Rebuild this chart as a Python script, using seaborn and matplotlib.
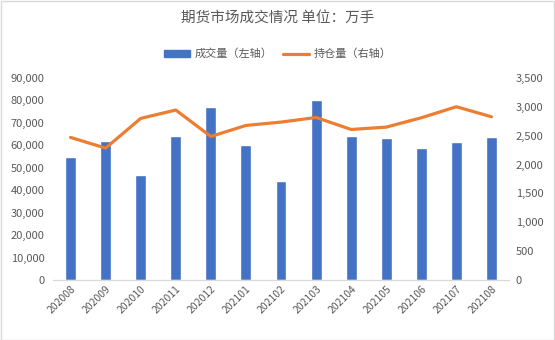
import matplotlib
matplotlib.use("Agg")
import matplotlib.pyplot as plt
import matplotlib.ticker as mticker
from matplotlib.patches import Rectangle, Patch
from matplotlib.lines import Line2D
import numpy as np
import pandas as pd
import seaborn as sns

# Monthly futures market data (unit: 10k lots)
months = ["202008", "202009", "202010", "202011", "202012", "202101", "202102",
          "202103", "202104", "202105", "202106", "202107", "202108"]
volume = [55000, 62000, 47000, 64000, 77000, 60000, 44000,
          80000, 64000, 63400, 59000, 61600, 63800]
open_interest = [2470, 2285, 2800, 2945, 2487, 2678, 2736,
                 2816, 2608, 2649, 2811, 3002, 2828]

title = "期货市场成交情况 单位：万手"
vol_label = "成交量（左轴）"
oi_label = "持仓量（右轴）"

BLUE = "#4472C4"
ORANGE = "#ED7D31"
GRAY = "#595959"

sns.set_theme(style="white")
plt.rcParams["font.family"] = ["Noto Sans CJK SC", "DejaVu Sans"]

df = pd.DataFrame({"month": months, "volume": volume,
                   "oi": open_interest, "pos": np.arange(len(months))})

fig = plt.figure(figsize=(5.55, 3.4), dpi=100)
ax = fig.add_axes([53 / 555, 1 - 280 / 340, 456 / 555, 202 / 340])

sns.barplot(data=df, x="month", y="volume", color=BLUE, width=0.31,
            saturation=1, ax=ax)
ax.set_ylim(0, 90000)
ax.set_xlim(-0.5, len(months) - 0.5)
ax.yaxis.set_major_locator(mticker.MultipleLocator(10000))
ax.yaxis.set_major_formatter(mticker.FuncFormatter(lambda v, p: f"{int(v):,}"))

ax2 = ax.twinx()
sns.lineplot(data=df, x="pos", y="oi", color=ORANGE, linewidth=2.3, ax=ax2)
ax2.set_ylim(0, 3500)
ax2.yaxis.set_major_locator(mticker.MultipleLocator(500))
ax2.yaxis.set_major_formatter(mticker.FuncFormatter(lambda v, p: f"{int(v):,}"))
ax2.set_xlim(-0.5, len(months) - 0.5)

for a in (ax, ax2):
    a.set_xlabel("")
    a.set_ylabel("")
    for s in a.spines.values():
        s.set_visible(False)
    a.grid(False)
    a.tick_params(axis="both", length=0, colors=GRAY, labelsize=7.5)

ax.spines["bottom"].set_visible(True)
ax.spines["bottom"].set_color("#D9D9D9")
ax.spines["bottom"].set_linewidth(0.9)
ax.tick_params(axis="y", pad=6, labelsize=8)
ax2.tick_params(axis="y", pad=5, labelsize=8)
ax.tick_params(axis="x", pad=3)
for lbl in ax.get_xticklabels():
    lbl.set_rotation(45)
    lbl.set_ha("right")
    lbl.set_rotation_mode("anchor")

fig.text(0.5, 1 - 19 / 340, title, ha="center", va="center",
         fontsize=10.5, color=GRAY)

handles = [Patch(facecolor=BLUE, edgecolor=BLUE),
           Line2D([0], [0], color=ORANGE, linewidth=2.3)]
fig.legend(handles, [vol_label, oi_label], loc="center",
           bbox_to_anchor=(0.5, 1 - 54 / 340), ncol=2, frameon=False,
           fontsize=8, labelcolor=GRAY, handlelength=2.4, handleheight=0.6,
           columnspacing=0.9, handletextpad=0.4)

fig.patches.append(Rectangle((0.001, 0.001), 0.997, 0.997,
                             transform=fig.transFigure, fill=False,
                             edgecolor="#D9D9D9", linewidth=1.0))

fig.savefig("out.png", dpi=100)
